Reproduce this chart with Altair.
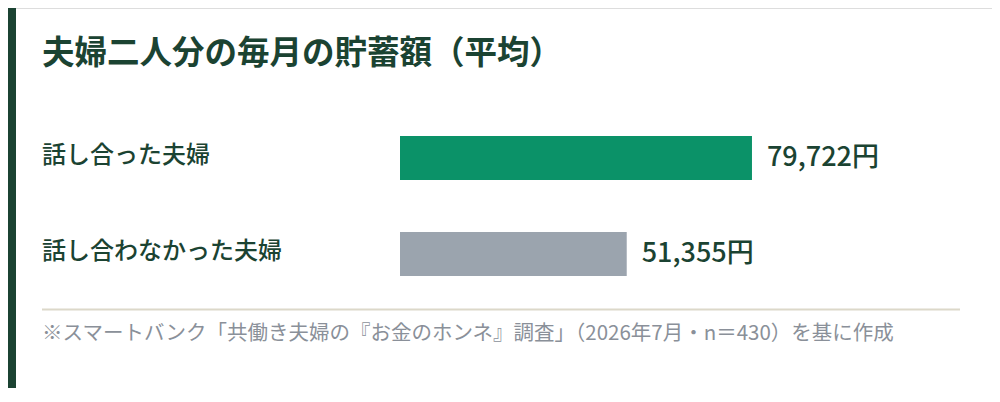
import altair as alt
import pandas as pd

# ---- data -------------------------------------------------------------
categories = ["話し合った夫婦", "話し合わなかった夫婦"]
values = [79722, 51355]
bar_colors = ["#0b9268", "#9ba4ae"]
title_text = "夫婦二人分の毎月の貯蓄額（平均）"
footnote_text = "※スマートバンク「共働き夫婦の『お金のホンネ』調査」（2026年7月・n＝430）を基に作成"

df = pd.DataFrame({
    "category": categories,
    "value": values,
    "label": [f"{v:,}円" for v in values],
})
one = pd.DataFrame({"a": [0]})

FONT = "Noto Sans CJK JP"
DARK = "#1b4332"

x_enc = alt.X("value:Q", scale=alt.Scale(domain=[0, 100000], range=[392, 833.5], nice=False, zero=True), axis=None)
y_enc = alt.Y("category:N", sort=categories,
              scale=alt.Scale(range=[128, 268], paddingInner=0.5417, paddingOuter=0), axis=None)

strip = alt.Chart(one).mark_rect(color=DARK).encode(
    x=alt.value(0), x2=alt.value(8), y=alt.value(0), y2=alt.value(380)
)

title = alt.Chart(one).mark_text(
    text=title_text, font=FONT, fontSize=32.5, fontWeight="bold", color=DARK,
    align="left", baseline="middle"
).encode(x=alt.value(34), y=alt.value(46))

bars = alt.Chart(df).mark_bar().encode(
    x=x_enc, y=y_enc,
    color=alt.Color("category:N", scale=alt.Scale(domain=categories, range=bar_colors), legend=None),
)

cat_labels = alt.Chart(df).mark_text(
    font=FONT, fontSize=24, fontWeight=500, color=DARK, align="left", baseline="middle", dy=-2
).encode(x=alt.value(34), y=y_enc, text="category:N")

val_labels = alt.Chart(df).mark_text(
    font=FONT, fontSize=27, fontWeight=500, color=DARK, align="left", baseline="middle", dx=15
).encode(x=x_enc, y=y_enc, text="label:N")

sep = alt.Chart(one).mark_rule(color="#dcd8c9", strokeWidth=2).encode(
    x=alt.value(34), x2=alt.value(952), y=alt.value(301.5)
)

foot = alt.Chart(one).mark_text(
    text=footnote_text, font=FONT, fontSize=20.5, color="#8a9099",
    align="left", baseline="middle"
).encode(x=alt.value(34), y=alt.value(326))

chart = alt.layer(strip, title, bars, cat_labels, val_labels, sep, foot).properties(
    width=984, height=380,
    autosize=alt.AutoSizeParams(type="none"),
    padding=0,
).configure_view(stroke=None).configure(background="white")

chart.save("out.html", embed_options={"renderer": "svg", "actions": False})
